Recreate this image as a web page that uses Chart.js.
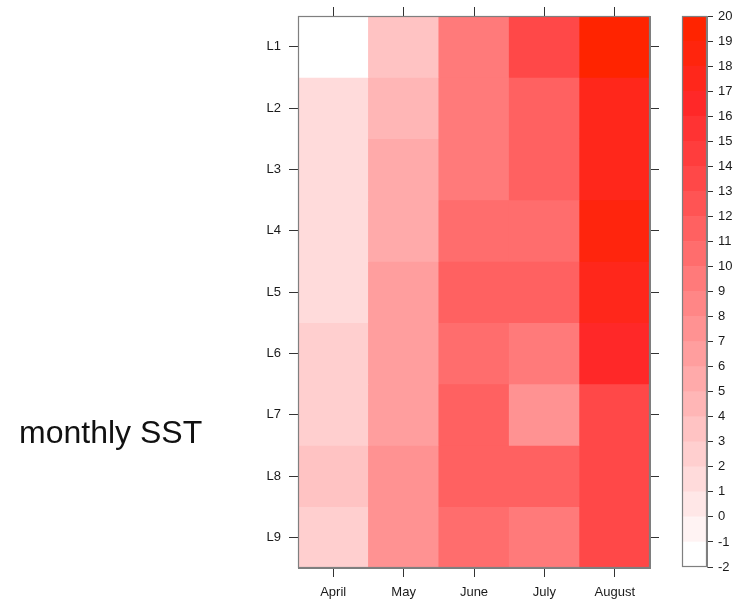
<!DOCTYPE html>
<html>
<head>
<meta charset="utf-8">
<title>monthly SST</title>
<script src="https://cdn.jsdelivr.net/npm/chart.js@4/dist/chart.umd.min.js"></script>
<style>
  body { margin: 0; background: #fff; width: 733px; height: 599px; position: relative; overflow: hidden; }
  #heat { position: absolute; left: 0; top: 0; }
  #key { position: absolute; left: 670px; top: 0; }
  .side-title { position: absolute; left: 19px; top: 414px; font: 32px 'Liberation Sans', Arial, sans-serif; color: #111; white-space: nowrap; }
</style>
</head>
<body>
<canvas id="heat" width="670" height="599"></canvas>
<canvas id="key" width="63" height="599"></canvas>
<div class="side-title">monthly SST</div>
<script>
const months = ['April', 'May', 'June', 'July', 'August'];
const levels = ['L1', 'L2', 'L3', 'L4', 'L5', 'L6', 'L7', 'L8', 'L9'];

// SST per month, one value per level L1..L9
const april  = [-1.5, 1.6, 1.6, 1.6, 1.5, 2.3, 2.3, 3.4, 2.2];
const may    = [3.5, 4.6, 5.6, 5.6, 6.5, 6.5, 6.5, 7.4, 7.4];
const june   = [9.5, 9.5, 9.5, 10.5, 11.6, 10.4, 11.6, 11.5, 10.5];
const july   = [13.5, 11.4, 11.4, 10.6, 11.6, 9.6, 7.6, 11.5, 9.6];
const august = [19.5, 17.4, 17.4, 18.3, 17.5, 16.6, 13.5, 13.5, 13.5];

// colour key breaks (also the key's tick labels)
const breaks = [-2, -1, 0, 1, 2, 3, 4, 5, 6, 7, 8, 9, 10, 11, 12, 13, 14, 15, 16, 17, 18, 19, 20];

const sst = [april, may, june, july, august];

const inkColor = '#1a1a1a';
const frameColor = '#7f7f7f';
const tickColor = '#333333';
Chart.defaults.font.family = "'Liberation Sans', Arial, sans-serif";
Chart.defaults.color = inkColor;

// white -> red ramp
const rampStops = [
  [0, [255, 255, 255]],
  [0.5, [255, 128, 128]],
  [0.714, [255, 72, 72]],
  [0.857, [255, 40, 40]],
  [1, [255, 36, 0]]
];
function ramp(t) {
  for (let i = 1; i < rampStops.length; i++) {
    const [t1, c1] = rampStops[i];
    const [t0, c0] = rampStops[i - 1];
    if (t <= t1) {
      const f = (t - t0) / (t1 - t0);
      const c = c0.map((v, j) => Math.round(v + (c1[j] - v) * f));
      return `rgb(${c[0]},${c[1]},${c[2]})`;
    }
  }
  return 'rgb(255,36,0)';
}

const nBins = breaks.length - 1;
const palette = [];
for (let k = 0; k < nBins; k++) palette.push(ramp(k / (nBins - 1)));

function binOf(v) {
  let k = 0;
  while (k < nBins - 1 && v >= breaks[k + 1]) k++;
  return k;
}

function rowTicks(scale) {
  scale.ticks = levels.map((l, i) => ({ value: i + 0.5 }));
}

// grey box round the plotting area, drawn over the cells
const frame = {
  id: 'frame',
  afterDatasetsDraw(chart) {
    const { ctx, chartArea: a } = chart;
    ctx.save();
    ctx.strokeStyle = frameColor;
    ctx.lineWidth = 1.2;
    ctx.strokeRect(Math.round(a.left) + 0.5, Math.round(a.top) + 0.5,
      Math.round(a.right - a.left) - 1, Math.round(a.bottom - a.top) - 1);
    ctx.restore();
  }
};

const tickGrid = { drawOnChartArea: false, tickLength: 9, color: tickColor, offset: false };

// heat map: one stacked layer per level, cells coloured by SST
new Chart(document.getElementById('heat'), {
  type: 'bar',
  data: {
    labels: months,
    datasets: levels.map((lvl, i) => ({
      label: lvl,
      data: months.map(() => 1),
      sst: sst.map(col => col[i]),
      backgroundColor: sst.map(col => palette[binOf(col[i])]),
      borderWidth: 0,
      barPercentage: 1,
      categoryPercentage: 1
    }))
  },
  options: {
    responsive: false,
    animation: false,
    layout: { padding: { left: 240, top: 7, right: 10, bottom: 0 } },
    plugins: {
      legend: { display: false },
      tooltip: {
        callbacks: {
          label: ctx => ctx.dataset.label + ': ' + ctx.dataset.sst[ctx.dataIndex]
        }
      }
    },
    scales: {
      x: {
        stacked: true,
        position: 'bottom',
        grid: tickGrid,
        border: { color: frameColor },
        ticks: { font: { size: 13 }, padding: 8, maxRotation: 0 },
        afterFit: s => { s.height = 31; }
      },
      xTop: {
        type: 'category',
        labels: months,
        offset: true,
        position: 'top',
        grid: tickGrid,
        border: { color: frameColor },
        ticks: { display: false },
        afterFit: s => { s.height = 9; }
      },
      y: {
        stacked: true,
        reverse: true,
        min: 0,
        max: levels.length,
        afterBuildTicks: rowTicks,
        grid: tickGrid,
        border: { color: frameColor },
        ticks: { font: { size: 13 }, padding: 8, autoSkip: false, callback: (v, i) => levels[i] },
        afterFit: s => { s.width = 58; }
      },
      yRight: {
        type: 'linear',
        position: 'right',
        reverse: true,
        min: 0,
        max: levels.length,
        afterBuildTicks: rowTicks,
        grid: tickGrid,
        border: { color: frameColor },
        ticks: { display: false },
        afterFit: s => { s.width = 10; }
      }
    }
  },
  plugins: [frame]
});

// colour key: one floating bar per interval of breaks
new Chart(document.getElementById('key'), {
  type: 'bar',
  data: {
    labels: [''],
    datasets: palette.map((c, k) => ({
      data: [[breaks[k], breaks[k + 1]]],
      backgroundColor: c,
      borderWidth: 0,
      grouped: false,
      barPercentage: 1,
      categoryPercentage: 1
    }))
  },
  options: {
    responsive: false,
    animation: false,
    layout: { padding: { left: 12, top: 16, right: 0, bottom: 32 } },
    plugins: { legend: { display: false }, tooltip: { enabled: false } },
    scales: {
      x: { display: false },
      y: {
        position: 'right',
        min: breaks[0],
        max: breaks[breaks.length - 1],
        afterBuildTicks: s => { s.ticks = breaks.map(v => ({ value: v })); },
        grid: { drawOnChartArea: false, tickLength: 6, color: tickColor },
        border: { color: frameColor },
        ticks: { font: { size: 13 }, padding: 5, autoSkip: false },
        afterFit: s => { s.width = 26; }
      }
    }
  },
  plugins: [frame]
});
</script>
</body>
</html>
